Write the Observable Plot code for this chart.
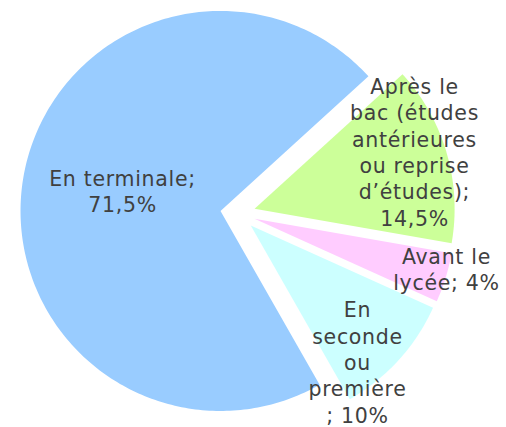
<!DOCTYPE html>
<html>
<head>
<meta charset="utf-8">
<script src="https://cdn.jsdelivr.net/npm/d3@7"></script>
<script src="https://cdn.jsdelivr.net/npm/@observablehq/plot@0.6"></script>
<style>
  html, body { margin: 0; padding: 0; background: #fff; }
</style>
</head>
<body>
<div id="chart"></div>
<script>
// ---- data ----
const categories = ["Avant le lycée", "En seconde ou première", "En terminale", "Après le bac (études antérieures ou reprise d'études)"];
const values = [4, 10, 71.5, 14.5];
const valueLabels = ["4%", "10%", "71,5%", "14,5%"];
const labelLines = [
  ["Avant le", "lycée; 4%"],
  ["En", "seconde", "ou", "première", "; 10%"],
  ["En terminale;", "71,5%"],
  ["Après le", "bac (études", "antérieures", "ou reprise", "d\u2019études);", "14,5%"]
];
const colors = ["#FFCCFF", "#CCFFFF", "#99CCFF", "#CCFF99"];

// ---- layout ----
const W = 506, H = 427;
const cx = 237.3, cy = 213.2, R = 200;      // pie centre & radius in px
const explode = 17.5 / R;                   // explosion in radius units
const startDeg = 99.9;                      // first slice angle (clockwise from north)
// label anchor positions (px) for each category, same order
const labelPos = [[446, 268], [357, 361], [122, 190], [414, 151]];

const toRad = Math.PI / 180;
const pie = d3.pie().sort(null).value(d => d.value)
  .startAngle(startDeg * toRad).endAngle(startDeg * toRad + 2 * Math.PI);
const rows = categories.map((c, i) => ({category: c, value: values[i]}));
const arcs = pie(rows);

// Build polygon points (unit radius, y up) for each slice
const pts = [];
arcs.forEach(a => {
  const mid = (a.startAngle + a.endAngle) / 2;
  const ox = explode * Math.sin(mid), oy = explode * Math.cos(mid);
  const cat = a.data.category;
  pts.push({category: cat, x: ox, y: oy});
  const n = Math.max(4, Math.ceil((a.endAngle - a.startAngle) / toRad));
  for (let k = 0; k <= n; k++) {
    const t = a.startAngle + (a.endAngle - a.startAngle) * k / n;
    pts.push({category: cat, x: ox + Math.sin(t), y: oy + Math.cos(t)});
  }
});

const labels = categories.map((c, i) => ({
  category: c,
  text: labelLines[i].join("\n"),
  x: (labelPos[i][0] - cx) / R,
  y: (cy - labelPos[i][1]) / R
}));

const chart = Plot.plot({
  width: W, height: H,
  margin: 0,
  style: {background: "#fff", fontFamily: "'DejaVu Sans', sans-serif", letterSpacing: "0.7px"},
  x: {domain: [-cx / R, (W - cx) / R], range: [0, W], axis: null},
  y: {domain: [(cy - H) / R, cy / R], range: [H, 0], axis: null},
  color: {domain: categories, range: colors},
  marks: [
    Plot.line(pts, {x: "x", y: "y", z: "category", fill: "category", stroke: "none", curve: "linear-closed"}),
    Plot.text(labels, {x: "x", y: "y", text: "text", fill: "#404040", fontSize: 20.5, lineHeight: 1.283, textAnchor: "middle"})
  ]
});
document.getElementById("chart").appendChild(chart);
</script>
</body>
</html>
